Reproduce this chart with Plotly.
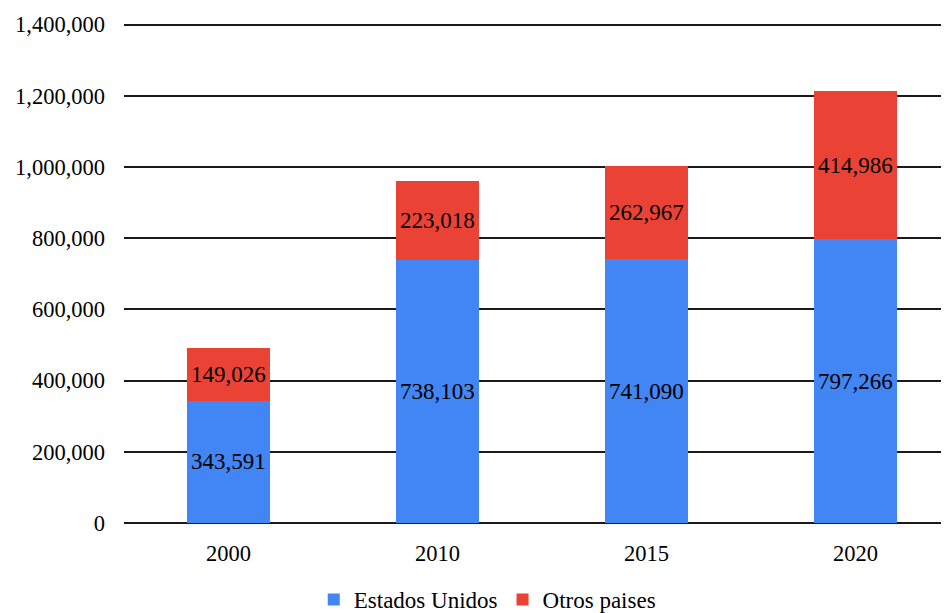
import plotly.graph_objects as go

years = ['2000', '2010', '2015', '2020']
estados_unidos = [343591, 738103, 741090, 797266]
otros_paises = [149026, 223018, 262967, 414986]
y_ticks = [0, 200000, 400000, 600000, 800000, 1000000, 1200000, 1400000]

FONT = 'Liberation Serif, Times New Roman, serif'


def bar(name, values, color):
    return go.Bar(
        x=years,
        y=values,
        name=name,
        marker=dict(color=color, line=dict(width=0)),
        width=0.4,
        text=[f'{v:,}' for v in values],
        textposition='inside',
        insidetextanchor='middle',
        textangle=0,
        constraintext='none',
        textfont=dict(family=FONT, size=23, color='#000000'),
    )


fig = go.Figure()
fig.add_trace(bar('Estados Unidos', estados_unidos, '#4285F4'))
fig.add_trace(bar('Otros paises', otros_paises, '#EA4335'))

fig.update_layout(
    barmode='stack',
    width=949,
    height=613,
    paper_bgcolor='white',
    plot_bgcolor='white',
    margin=dict(l=116, r=0, t=13, b=98),
    font=dict(family=FONT, size=22.5, color='#000000'),
    legend=dict(
        orientation='h',
        xref='container', yref='container',
        x=0.505, y=0.035,
        xanchor='center', yanchor='middle',
        font=dict(size=23),
        itemwidth=30,
        traceorder='normal',
    ),
    xaxis=dict(
        type='category',
        range=[-0.5, 3.486],
        showgrid=False,
        showline=False,
        ticks='',
        ticklabelstandoff=14,
    ),
    yaxis=dict(
        range=[0, 1410000],
        tickvals=y_ticks,
        tickformat=',',
        showgrid=True,
        gridcolor='#1a1a1a',
        gridwidth=2,
        zeroline=True,
        zerolinecolor='#1a1a1a',
        zerolinewidth=2,
        ticks='',
        ticklabelstandoff=18,
    ),
)

fig.write_html('out.html')
